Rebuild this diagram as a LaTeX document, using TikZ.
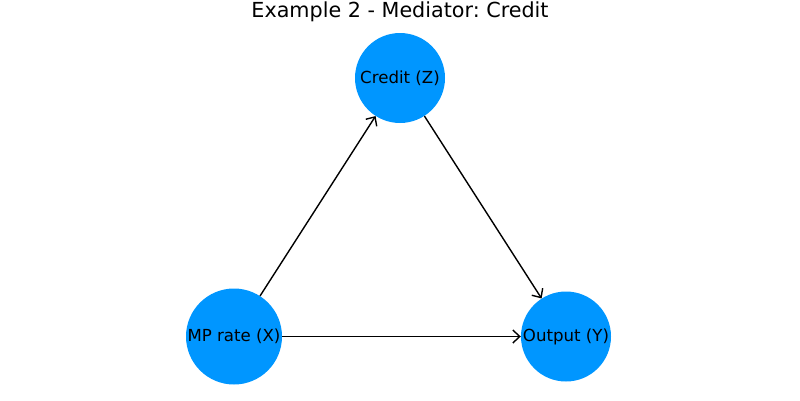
\documentclass[tikz,border=0pt]{standalone}
\usepackage{fontspec}
\setmainfont{DejaVu Sans}
\usetikzlibrary{arrows.meta}
\definecolor{nodeblue}{HTML}{0096FF}
\frenchspacing
\begin{document}
\begin{tikzpicture}[x=1pt,y=-1pt,
  vnode/.style={circle,fill=nodeblue,inner sep=0pt,font=\fontsize{16.6}{20}\selectfont},
  conn/.style={line width=1.4pt,-{Straight Barb[length=7pt,width=13pt,line width=1.4pt]}}]
\useasboundingbox (0,0) rectangle (800,400);
\node[font=\fontsize{20.7}{24}\selectfont] (title) at (400,12) {Example 2 - Mediator: Credit};
\node[vnode,minimum size=90pt] (z) at (400,78) {Credit (Z)};
\node[vnode,minimum size=96pt] (x) at (234,336.5) {MP rate (X)};
\node[vnode,minimum size=90pt] (y) at (566,336.5) {Output (Y)};
\draw[conn] (x) -- (z);
\draw[conn] (z) -- (y);
\draw[conn] (x) -- (y);
\end{tikzpicture}
\end{document}
